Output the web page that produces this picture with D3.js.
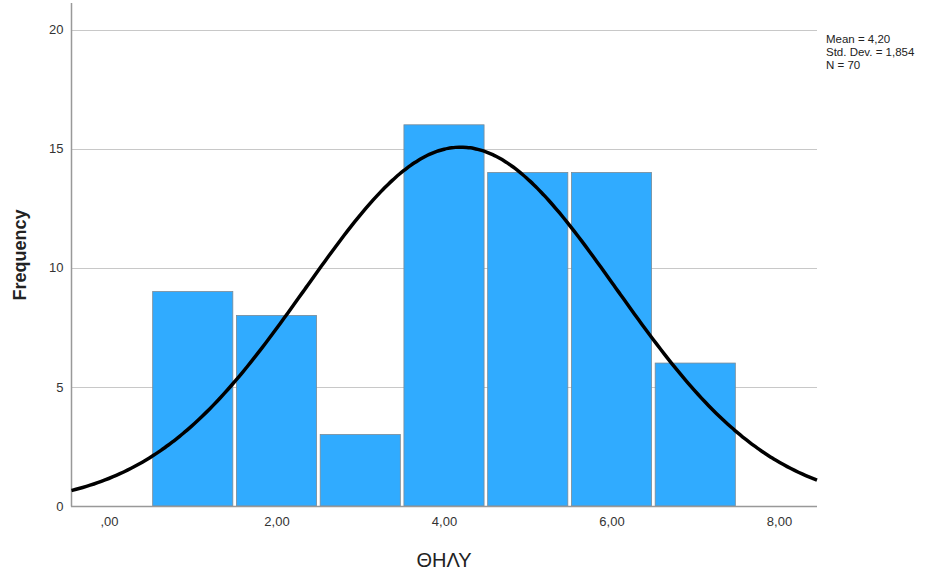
<!DOCTYPE html>
<html><head><meta charset="utf-8">
<script src="https://cdn.jsdelivr.net/npm/d3@7"></script>
<style>body{margin:0;background:#fff;}svg{display:block;font-family:Arial,"Liberation Sans",sans-serif;}</style>
</head><body><svg id="c" width="935" height="573"></svg>
<script>
const binCenters = [1, 2, 3, 4, 5, 6, 7];
const frequencies = [9, 8, 3, 16, 14, 14, 6];
const xTicks = [0, 2, 4, 6, 8];
const xTickLabels = [",00", "2,00", "4,00", "6,00", "8,00"];
const yTicks = [0, 5, 10, 15, 20];
const stats = { mean: 4.20, sd: 1.854, n: 70, binWidth: 1 };
const legendLines = ["Mean = 4,20", "Std. Dev. = 1,854", "N = 70"];

const svg = d3.select("#c");
const x = d3.scaleLinear().domain([0, 8]).range([109, 779]);
const y = d3.scaleLinear().domain([0, 20]).range([506, 29.5]);
const xMin = x.invert(71.5), xMax = x.invert(817);

// gridlines
svg.append("g").selectAll("line").data(yTicks.filter(d => d > 0)).join("line")
  .attr("x1", 71.5).attr("x2", 817).attr("y1", d => Math.round(y(d)) + 0.5).attr("y2", d => Math.round(y(d)) + 0.5)
  .attr("stroke", "#c8c8c8").attr("stroke-width", 1.2);

// bars
const bw = x(1) - x(0);
svg.append("g").selectAll("rect").data(binCenters).join("rect")
  .attr("x", d => x(d) - bw / 2 + 1.8).attr("width", bw - 3.6)
  .attr("y", (d, i) => y(frequencies[i])).attr("height", (d, i) => y(0) - y(frequencies[i]))
  .attr("fill", "#30abff").attr("stroke", "#7a8a96").attr("stroke-width", 0.8);

// axes
const yAxis = d3.axisLeft(y).tickValues(yTicks).tickSize(0).tickPadding(8).tickFormat(d3.format("d"));
const gy = svg.append("g").attr("transform", "translate(71.5,0)").call(yAxis);
gy.select(".domain").remove();
gy.selectAll("text").attr("font-size", 13).attr("fill", "#333");
svg.append("line").attr("x1", 71.5).attr("x2", 71.5).attr("y1", 3).attr("y2", 506.5).attr("stroke", "#999").attr("stroke-width", 1.5);

const xAxis = d3.axisBottom(x).tickValues(xTicks).tickSize(0).tickPadding(11).tickFormat((d, i) => xTickLabels[i]);
const gx = svg.append("g").attr("transform", "translate(0,506)").call(xAxis);
gx.select(".domain").remove();
gx.selectAll("text").attr("font-size", 13).attr("fill", "#333");
svg.append("line").attr("x1", 71).attr("x2", 817).attr("y1", 506.5).attr("y2", 506.5).attr("stroke", "#999").attr("stroke-width", 1.5);

// normal curve
const pts = d3.range(0, 201).map(i => xMin + (xMax - xMin) * i / 200);
const pdf = v => stats.n * stats.binWidth / (stats.sd * Math.sqrt(2 * Math.PI)) * Math.exp(-0.5 * ((v - stats.mean) / stats.sd) ** 2);
svg.append("path").datum(pts)
  .attr("d", d3.line().x(d => x(d)).y(d => y(pdf(d))).curve(d3.curveBasis))
  .attr("fill", "none").attr("stroke", "#000").attr("stroke-width", 3.5);

// legend
svg.append("g").selectAll("text").data(legendLines).join("text")
  .attr("x", 826).attr("y", (d, i) => 43 + i * 13).attr("font-size", 11.5).attr("fill", "#222").text(d => d);

// axis titles
svg.append("text").attr("x", 444).attr("y", 567).attr("text-anchor", "middle").attr("font-size", 20).attr("fill", "#222").text("ΘΗΛΥ");
svg.append("text").attr("transform", "translate(26,255) rotate(-90)").attr("text-anchor", "middle")
  .attr("font-size", 18).attr("font-weight", "bold").attr("fill", "#222").text("Frequency");
</script></body></html>
